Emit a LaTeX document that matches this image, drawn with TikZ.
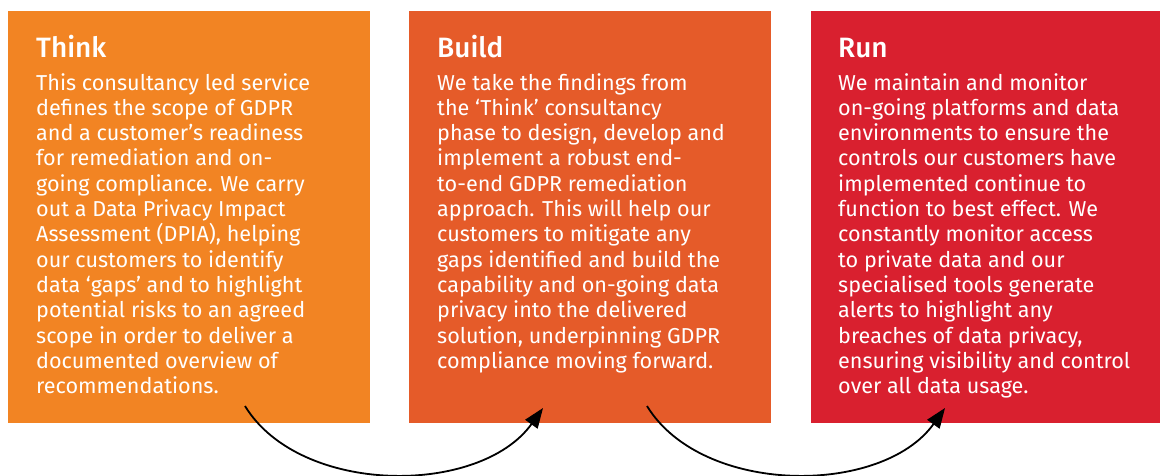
\documentclass[tikz,border=0pt]{standalone}
\usepackage{fontspec}
\setmainfont{Fira Sans}[BoldFont={Fira Sans Medium}]
\usetikzlibrary{arrows.meta}
\definecolor{thinkc}{HTML}{F28423}
\definecolor{buildc}{HTML}{E55B29}
\definecolor{runc}{HTML}{D9202F}
\begin{document}
\begin{tikzpicture}[x=1pt,y=-1pt,
  title/.style={anchor=base west,inner sep=0pt,text=white,font=\fontsize{28}{32}\selectfont\bfseries},
  body/.style={anchor=base west,inner sep=0pt,text=white,align=left,font=\fontsize{21.6}{25.3}\selectfont},
  flow/.style={line width=1.8pt,-{Triangle[length=20pt,width=15pt]}}]
\useasboundingbox (0,0) rectangle (1160,476);
\fill[white] (0,0) rectangle (1160,476);
\fill[thinkc] (8,11) rectangle (370,423);
\fill[buildc] (409,11) rectangle (771,423);
\fill[runc] (811,11) rectangle (1160,423);
\node[title] (t1) at (36,58) {Think};
\node[title] (t2) at (437,58) {Build};
\node[title] (t3) at (838,58) {Run};
% body nodes: anchored at the baseline of their last line
\node[body] (b1) at (36,393.6) {This consultancy led service\\defines the scope of GDPR\\and a customer’s readiness\\for remediation and on-\\going compliance. We carry\\out a Data Privacy Impact\\Assessment (DPIA), helping\\our customers to identify\\data ‘gaps’ and to highlight\\potential risks to an agreed\\scope in order to deliver a\\documented overview of\\recommendations.};
\node[body] (b2) at (437,368.3) {We take the findings from\\the ‘Think’ consultancy\\phase to design, develop and\\implement a robust end-\\to-end GDPR remediation\\approach. This will help our\\customers to mitigate any\\gaps identified and build the\\capability and on-going data\\privacy into the delivered\\solution, underpinning GDPR\\compliance moving forward.};
\node[body] (b3) at (838,393.6) {We maintain and monitor\\on-going platforms and data\\environments to ensure the\\controls our customers have\\implemented continue to\\function to best effect. We\\constantly monitor access\\to private data and our\\specialised tools generate\\alerts to highlight any\\breaches of data privacy,\\ensuring visibility and control\\over all data usage.};
\coordinate (s1) at (245,406);
\coordinate (e1) at (543,408);
\coordinate (s2) at (647,406);
\coordinate (e2) at (945,408);
\draw[flow] (s1) .. controls (300,496) and (480,496) .. (e1);
\draw[flow] (s2) .. controls (702,496) and (882,496) .. (e2);
\end{tikzpicture}
\end{document}
